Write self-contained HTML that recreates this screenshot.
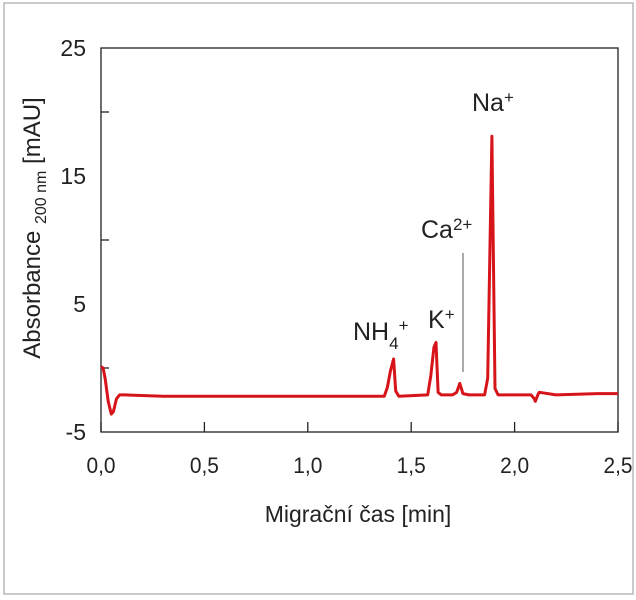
<!DOCTYPE html>
<html><head><meta charset="utf-8"><style>
body{margin:0;background:#fff;}
svg{display:block;font-family:"Liberation Sans",sans-serif;}
</style></head><body>
<svg width="636" height="600">
<rect x="4" y="3" width="629" height="591" fill="#fff" stroke="#b8b8b8" stroke-width="1.5"/>
<g id="axes"></g>
<g id="series"></g>
<g id="labels"></g>
</svg>
<script>
const xTicks=[0,0.5,1.0,1.5,2.0,2.5];
const xTickLabels=["0,0","0,5","1,0","1,5","2,0","2,5"];
const yTicks=[25,15,5,-5];
const yMinorTicks=[20,10,0];
const times=[0,0.01,0.02,0.035,0.05,0.06,0.075,0.09,0.12,0.3,0.6,0.9,1.2,1.37,1.385,1.40,1.415,1.425,1.44,1.58,1.595,1.61,1.62,1.63,1.645,1.70,1.72,1.735,1.75,1.78,1.855,1.87,1.89,1.905,1.92,1.95,2.08,2.095,2.10,2.115,2.12,2.2,2.4,2.5];
const absorb=[0.1,0.0,-0.8,-2.6,-3.6,-3.4,-2.4,-2.1,-2.1,-2.2,-2.2,-2.2,-2.2,-2.2,-1.5,-0.2,0.7,-1.8,-2.2,-2.1,-0.6,1.6,2.0,-1.9,-2.1,-2.1,-1.9,-1.2,-2.0,-2.1,-2.1,-0.8,18.1,-1.6,-2.1,-2.1,-2.1,-2.4,-2.6,-2.0,-1.9,-2.1,-2.0,-2.0];
const labelNames=["NH4+","K+","Ca2+","Na+"];
const X0=101,X1=618,Y0=432,Y1=48;
const xs=v=>X0+(v-0)/(2.5-0)*(X1-X0);
const ys=v=>Y0-(v+5)/(30)*(Y0-Y1);
const NS="http://www.w3.org/2000/svg";
function mk(t,a,p){const e=document.createElementNS(NS,t);for(const k in a)e.setAttribute(k,a[k]);p.appendChild(e);return e;}
const ax=document.getElementById('axes');
const frame=mk('rect',{x:X0,y:Y1,width:X1-X0,height:Y0-Y1,fill:'none',stroke:'#222','stroke-width':1.3},ax);


xTicks.forEach((t,i)=>{
 const l=mk('line',{x1:xs(t),x2:xs(t),y1:Y0,y2:Y0-10,stroke:'#222','stroke-width':1.3},ax);
 
 
 const tx=mk('text',{x:xs(t),y:473,'font-size':22,'text-anchor':'middle',fill:'#222',transform:'translate('+xs(t)+',0) scale(0.95,1) translate('+(-xs(t))+',0)'},ax);
 tx.textContent=xTickLabels[i];
 
 
});
yTicks.forEach(t=>{
 const tx=mk('text',{x:86,y:ys(t)+8,'font-size':23,'text-anchor':'end',fill:'#222'},ax);
 tx.textContent=String(t);
 
 
});
yMinorTicks.forEach(t=>{
 const l=mk('line',{x1:X0,x2:X0+8,y1:ys(t),y2:ys(t),stroke:'#222','stroke-width':1.3},ax);
 
 
});
const xt=mk('text',{x:358,y:522,'font-size':23,'text-anchor':'middle',fill:'#222'},ax);
xt.textContent='Migrační čas [min]';


const yt=mk('text',{transform:'translate(40,228) rotate(-90)','font-size':24,'text-anchor':'middle',fill:'#222'},ax);
yt.innerHTML='Absorbance <tspan font-size="16" dy="6">200 nm</tspan><tspan dy="-6"> [mAU]</tspan>';


const se=document.getElementById('series');
const pts=times.map((t,i)=>xs(t).toFixed(1)+','+ys(absorb[i]).toFixed(1)).join(' ');
const pl=mk('polyline',{points:pts,fill:'none',stroke:'#d7141a','stroke-width':3,'stroke-linejoin':'round'},se);


const lb=document.getElementById('labels');
const ca=mk('line',{x1:463,x2:463,y1:253,y2:372,stroke:'#555','stroke-width':1},lb);


const defs=[[353,340,'NH<tspan font-size="17" dy="9">4</tspan><tspan font-size="17" dy="-18">+</tspan>'],[428,328,'K<tspan font-size="17" dy="-8">+</tspan>'],[421,238,'Ca<tspan font-size="17" dy="-8">2+</tspan>'],[472,111,'Na<tspan font-size="17" dy="-8">+</tspan>']];
defs.forEach((d,i)=>{
 const t=mk('text',{x:d[0],y:d[1],'font-size':25,fill:'#222'},lb);
 t.innerHTML=d[2];
 
 
});
</script>
</body></html>
